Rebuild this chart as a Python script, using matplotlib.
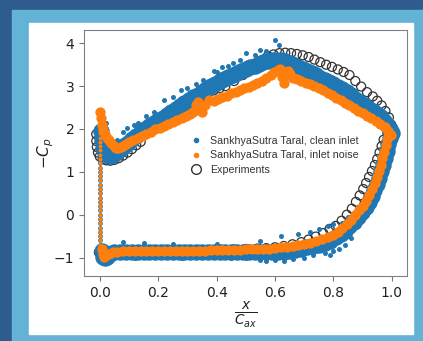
import matplotlib.pyplot as plt
from matplotlib.lines import Line2D
from matplotlib.patches import Rectangle

# experiments (open circles)
exp_x = [-0.012, -0.012, -0.010, -0.006, 0.000, 0.010, 0.022, 0.036, 0.050, 0.065, 0.080, 0.095,
         0.110, 0.125, 0.140, 0.370, 0.390, 0.410, 0.430, 0.460, 0.490, 0.520, 0.550, 0.575, 0.595,
         0.615, 0.635, 0.655, 0.675, 0.695, 0.715, 0.735, 0.755, 0.775, 0.795, 0.815, 0.835, 0.855,
         0.875, 0.895, 0.915, 0.935, 0.950, 0.965, 0.978, 0.990, 0.998,
         0.985, 0.972, 0.965, 0.958, 0.950, 0.942, 0.932, 0.922, 0.912, 0.902, 0.890, 0.877, 0.863,
         0.846, 0.828, 0.808, 0.787, 0.765, 0.740, 0.715, 0.690, 0.660, 0.630, 0.600, 0.570, 0.540,
         0.500, 0.460, 0.420, 0.380, 0.340, 0.300, 0.260, 0.220, 0.180, 0.140, 0.100, 0.060, 0.030,
         -0.003]
exp_y = [1.88, 1.72, 1.58, 1.45, 1.36, 1.30, 1.27, 1.26, 1.28, 1.32, 1.38, 1.45,
         1.53, 1.62, 1.70, 2.82, 2.90, 2.95, 3.00, 3.12, 3.26, 3.42, 3.56, 3.70, 3.74,
         3.77, 3.78, 3.77, 3.75, 3.72, 3.68, 3.62, 3.56, 3.50, 3.45, 3.39, 3.33, 3.26,
         3.12, 2.99, 2.86, 2.76, 2.66, 2.55, 2.42, 2.27, 2.10,
         1.90, 1.75, 1.60, 1.45, 1.30, 1.16, 1.02, 0.88, 0.74, 0.60, 0.45, 0.30, 0.14,
         0.00, -0.14, -0.26, -0.33, -0.43, -0.51, -0.58, -0.64, -0.69, -0.73, -0.76, -0.78, -0.79,
         -0.80, -0.81, -0.82, -0.82, -0.82, -0.82, -0.82, -0.82, -0.82, -0.83, -0.83, -0.84, -0.85,
         -0.88]

# SankhyaSutra Taral, inlet noise (orange band)
noise_x = [0.002, 0.004, 0.007, 0.012, 0.018, 0.025, 0.032, 0.040, 0.048, 0.056, 0.064, 0.072,
           0.080, 0.090, 0.100, 0.115, 0.130, 0.145, 0.160, 0.175, 0.190, 0.205, 0.220, 0.235,
           0.250, 0.265, 0.280, 0.295, 0.310, 0.320, 0.330, 0.336, 0.342, 0.350, 0.360, 0.375,
           0.390, 0.405, 0.420, 0.435, 0.450, 0.465, 0.480, 0.495, 0.510, 0.525, 0.540, 0.555,
           0.570, 0.585, 0.598, 0.610, 0.618, 0.624, 0.630, 0.638, 0.645, 0.652, 0.662, 0.675,
           0.690, 0.705, 0.720, 0.735, 0.750, 0.765, 0.780, 0.795, 0.810, 0.825, 0.840, 0.855,
           0.870, 0.885, 0.900, 0.915, 0.930, 0.945, 0.960, 0.975, 0.988, 0.998,
           0.006, 0.010, 0.014, 0.020, 0.030, 0.045, 0.060, 0.080, 0.100, 0.120, 0.140, 0.160,
           0.180, 0.200, 0.220, 0.240, 0.260, 0.280, 0.300, 0.320, 0.340, 0.360, 0.380, 0.400,
           0.420, 0.440, 0.460, 0.480, 0.500, 0.520, 0.540, 0.560, 0.580, 0.600, 0.620, 0.640,
           0.660, 0.680, 0.700, 0.720, 0.740, 0.760, 0.780, 0.800, 0.815, 0.830, 0.845, 0.860,
           0.875, 0.888, 0.900, 0.912, 0.922, 0.932, 0.941, 0.949, 0.956, 0.962, 0.968, 0.974,
           0.979, 0.985, 0.992]
noise_y = [2.40, 2.25, 2.10, 1.98, 1.88, 1.80, 1.74, 1.67, 1.61, 1.56, 1.55, 1.57,
           1.60, 1.64, 1.69, 1.74, 1.79, 1.84, 1.89, 1.94, 1.99, 2.03, 2.08, 2.12,
           2.16, 2.21, 2.26, 2.30, 2.36, 2.40, 2.55, 2.62, 2.45, 2.40, 2.55, 2.68,
           2.66, 2.70, 2.74, 2.78, 2.84, 2.87, 2.91, 2.95, 2.99, 3.03, 3.08, 3.13,
           3.19, 3.25, 3.32, 3.38, 3.40, 3.22, 3.08, 3.25, 3.36, 3.28, 3.18, 3.16,
           3.12, 3.08, 3.05, 3.01, 2.96, 2.91, 2.85, 2.79, 2.73, 2.67, 2.61, 2.55,
           2.49, 2.43, 2.37, 2.31, 2.25, 2.19, 2.12, 2.04, 1.95, 1.87,
           -0.80, -0.92, -0.98, -0.95, -0.91, -0.88, -0.86, -0.85, -0.85, -0.84, -0.84, -0.84,
           -0.84, -0.84, -0.84, -0.84, -0.84, -0.84, -0.84, -0.84, -0.84, -0.84, -0.83, -0.83,
           -0.83, -0.82, -0.82, -0.82, -0.81, -0.81, -0.81, -0.80, -0.79, -0.78, -0.76, -0.75,
           -0.73, -0.71, -0.68, -0.65, -0.61, -0.57, -0.52, -0.47, -0.40, -0.32, -0.22, -0.12,
           -0.01, 0.10, 0.20, 0.32, 0.45, 0.59, 0.73, 0.87, 1.02, 1.17, 1.32, 1.47,
           1.62, 1.76, 1.87]

# SankhyaSutra Taral, clean inlet (blue band)
clean_x = [0.005, 0.008, 0.012, 0.018, 0.025, 0.035, 0.045, 0.055, 0.065, 0.075, 0.085, 0.095,
           0.110, 0.125, 0.140, 0.155, 0.170, 0.185, 0.200, 0.215, 0.230, 0.245, 0.260, 0.275,
           0.290, 0.305, 0.320, 0.335, 0.350, 0.365, 0.380, 0.395, 0.410, 0.425, 0.440, 0.455,
           0.470, 0.485, 0.500, 0.515, 0.530, 0.545, 0.560, 0.575, 0.590, 0.605, 0.620, 0.635,
           0.650, 0.665, 0.680, 0.695, 0.710, 0.725, 0.740, 0.755, 0.770, 0.785, 0.800, 0.815,
           0.830, 0.845, 0.860, 0.875, 0.890, 0.905, 0.920, 0.935, 0.950, 0.962, 0.974, 0.985,
           0.995, 1.000,
           0.008, 0.012, 0.018, 0.025, 0.035, 0.050, 0.070, 0.090, 0.110, 0.130, 0.150, 0.170,
           0.190, 0.210, 0.230, 0.250, 0.270, 0.290, 0.310, 0.330, 0.350, 0.370, 0.390, 0.410,
           0.430, 0.450, 0.470, 0.490, 0.510, 0.530, 0.550, 0.570, 0.590, 0.610, 0.630, 0.650,
           0.670, 0.690, 0.710, 0.730, 0.750, 0.770, 0.790, 0.810, 0.825, 0.840, 0.855, 0.870,
           0.885, 0.898, 0.910, 0.921, 0.931, 0.940, 0.948, 0.956, 0.963, 0.970, 0.976, 0.982,
           0.988, 0.995]
clean_y = [1.95, 1.75, 1.55, 1.45, 1.40, 1.38, 1.40, 1.45, 1.50, 1.56, 1.62, 1.68,
           1.76, 1.84, 1.92, 1.99, 2.06, 2.13, 2.20, 2.26, 2.33, 2.40, 2.47, 2.53,
           2.60, 2.67, 2.74, 2.80, 2.87, 2.94, 3.00, 3.06, 3.12, 3.17, 3.22, 3.27,
           3.31, 3.36, 3.40, 3.44, 3.48, 3.52, 3.56, 3.59, 3.62, 3.62, 3.62, 3.59,
           3.55, 3.49, 3.44, 3.40, 3.35, 3.30, 3.25, 3.20, 3.15, 3.10, 3.05, 2.99,
           2.93, 2.86, 2.79, 2.71, 2.63, 2.55, 2.48, 2.41, 2.34, 2.27, 2.19, 2.10,
           2.00, 1.90,
           -0.85, -0.98, -1.02, -0.98, -0.92, -0.88, -0.86, -0.86, -0.86, -0.86, -0.86, -0.86,
           -0.86, -0.86, -0.86, -0.86, -0.86, -0.86, -0.86, -0.86, -0.86, -0.86, -0.86, -0.86,
           -0.86, -0.86, -0.87, -0.87, -0.87, -0.87, -0.88, -0.88, -0.88, -0.87, -0.86, -0.84,
           -0.82, -0.79, -0.76, -0.73, -0.70, -0.66, -0.61, -0.53, -0.46, -0.37, -0.27, -0.16,
           -0.05, 0.06, 0.18, 0.30, 0.43, 0.57, 0.71, 0.86, 1.01, 1.17, 1.32, 1.48,
           1.64, 1.80]

# scattered blue dots outside the band
spread_x = [0.600, 0.615, 0.500, 0.457, 0.420, 0.390, 0.354, 0.330, 0.277, 0.250, 0.220, 0.186,
            0.160, 0.117, 0.094, 0.080, 0.020, 0.012, 0.550, 0.570, 0.530, 0.480, 0.440, 0.400,
            0.300, 0.130, 0.060, 0.040,
            0.020, 0.030, 0.120, 0.200, 0.280, 0.350, 0.450, 0.500, 0.550, 0.570, 0.600, 0.630,
            0.660, 0.700, 0.730, 0.770, 0.790, 0.800, 0.820, 0.840, 0.860, 0.080, 0.150, 0.250,
            0.400, 0.550, 0.620, 0.680, 0.720, 0.750, 0.780, 0.800, 0.830, 0.850]
spread_y = [4.07, 3.96, 3.77, 3.54, 3.45, 3.35, 3.14, 3.05, 2.91, 2.75, 2.68, 2.40,
            2.30, 2.10, 2.03, 1.92, 2.14, 2.22, 3.85, 3.82, 3.72, 3.60, 3.48, 3.33,
            2.95, 2.15, 1.75, 1.70,
            -1.12, -1.08, -1.00, -0.99, -1.00, -0.99, -1.02, -1.00, -1.05, -1.08, -1.06, -1.08,
            -1.04, -1.00, -0.95, -0.90, -0.94, -0.85, -0.80, -0.70, -0.55, -0.64, -0.66, -0.68,
            -0.68, -0.62, -0.50, -0.45, -0.40, -0.33, -0.27, -0.22, -0.20, -0.05]

# leading edge stem at x ~ 0
stem_x = [0.000, 0.002, 0.000, 0.002, 0.000, 0.002, 0.000, 0.002, 0.000, 0.002, 0.000, 0.002,
          0.000, 0.002, 0.000, 0.002, 0.000, 0.002, 0.000, 0.002, 0.000, 0.002, 0.000, 0.002,
          0.000, 0.002, 0.000, 0.002]
stem_y = [1.90, 1.80, 1.70, 1.60, 1.50, 1.40, 1.30, 1.20, 1.10, 1.00, 0.90, 0.80,
          0.70, 0.60, 0.50, 0.40, 0.30, 0.20, 0.10, 0.00, -0.10, -0.20, -0.30, -0.40,
          -0.50, -0.60, -0.70, -0.80]

blue = '#1f77b4'
orange = '#ff7f0e'

fig = plt.figure(figsize=(4.23, 3.41), dpi=100)
fig.patch.set_facecolor('#2e5c8e')
fig.patches.append(Rectangle((12/423, 0), 411/423, 331/341, transform=fig.transFigure,
                             color='#63b3d6', zorder=-2))
fig.patches.append(Rectangle((29/423, 7/341), 384/423, 311/341, transform=fig.transFigure,
                             color='white', zorder=-1))

ax = fig.add_axes([84/423, 65/341, 323/423, 246/341])
ax.scatter(exp_x, exp_y, s=42, facecolors='none', edgecolors='#333333', linewidths=0.9, zorder=1)
ax.scatter(clean_x, clean_y, s=140, color=blue, linewidths=0, zorder=2)
ax.scatter(spread_x, spread_y, s=13, color=blue, linewidths=0, zorder=2)
ax.scatter(stem_x, stem_y, s=12, color=blue, linewidths=0, zorder=2)
ax.scatter(noise_x, noise_y, s=55, color=orange, linewidths=0, zorder=3)
ax.scatter(stem_x, stem_y, s=8, color=orange, linewidths=0, zorder=3)

ax.set_xlim(-0.054, 1.052)
ax.set_ylim(-1.43, 4.31)
ax.set_xticks([0.0, 0.2, 0.4, 0.6, 0.8, 1.0])
ax.set_yticks([-1, 0, 1, 2, 3, 4])
ax.set_yticklabels(['\u22121', '0', '1', '2', '3', '4'])
ax.tick_params(labelsize=10, colors='#222222')
ax.tick_params(color='#777777')
for sp in ax.spines.values():
    sp.set_color('#808080')
ax.set_xlabel(r'$\frac{x}{C_{ax}}$', fontsize=14, labelpad=0, color='#222222')
ax.set_ylabel(r'$-C_p$', fontsize=11, labelpad=-1.5, color='#222222')

handles = [Line2D([], [], marker='o', ls='', color=blue, markersize=3),
           Line2D([], [], marker='o', ls='', color=orange, markersize=3),
           Line2D([], [], marker='o', ls='', markerfacecolor='none', markeredgecolor='#333333',
                  markersize=7)]
labels = ['SankhyaSutra Taral, clean inlet', 'SankhyaSutra Taral, inlet noise', 'Experiments']
ax.legend(handles, labels, loc='upper left', bbox_to_anchor=(0.30, 0.61), frameon=False,
          prop={'family': 'Liberation Sans', 'size': 7.7}, labelcolor='#333333',
          handlelength=1.0, handletextpad=0.8, labelspacing=0.45, borderpad=0.4)

plt.savefig('out.png', dpi=100, facecolor=fig.get_facecolor())
